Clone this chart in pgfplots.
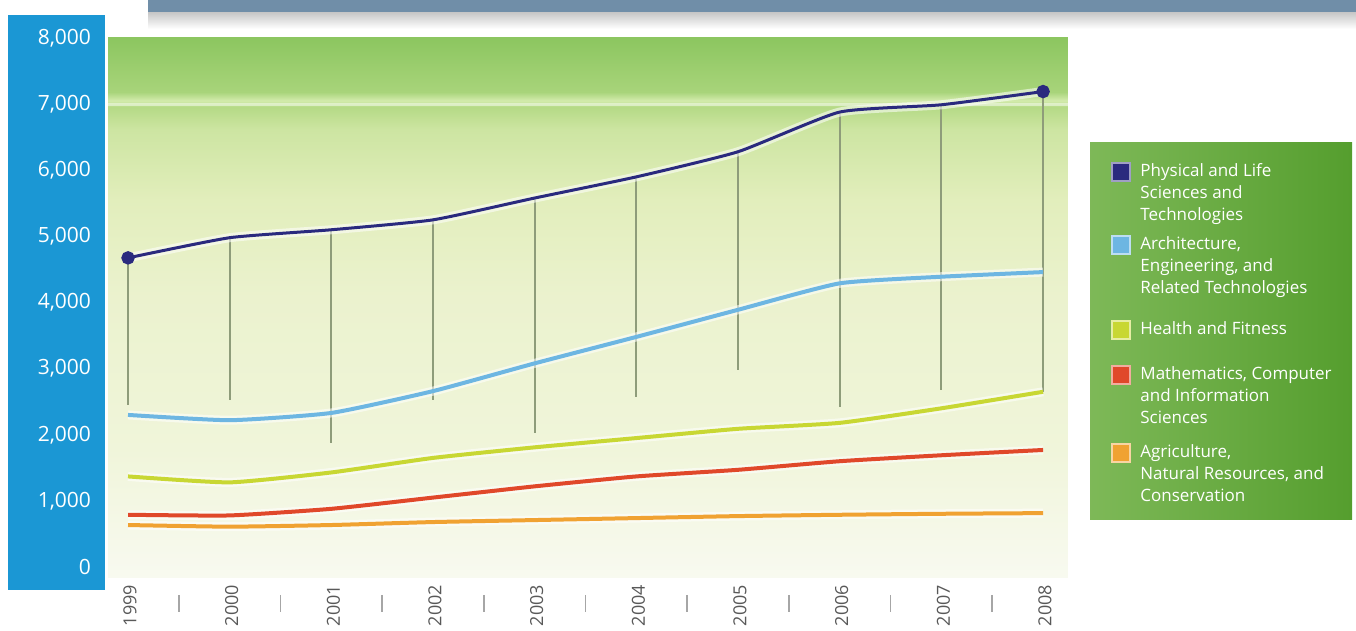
\documentclass[border=0pt]{standalone}
\usepackage{pgfplots}
\pgfplotsset{compat=1.18}
\usepackage{fontspec}
\setmainfont{Open Sans}

\definecolor{cPhys}{HTML}{2A2A7E}
\definecolor{cArch}{HTML}{6DB6E2}
\definecolor{cHealth}{HTML}{C8D733}
\definecolor{cMath}{HTML}{E0482A}
\definecolor{cAgri}{HTML}{F0A232}
\definecolor{cDrop}{HTML}{8E9C7A}
\definecolor{bandblue}{HTML}{1B97D4}
\definecolor{bannerblue}{HTML}{708EA8}
\definecolor{leggreen}{HTML}{67AC3A}
\definecolor{leggreenB}{HTML}{559E2E}

\definecolor{bg0}{HTML}{F8FAF0}
\definecolor{bg1}{HTML}{F0F5DA}
\definecolor{bg2}{HTML}{EBF2CE}
\definecolor{bg3}{HTML}{E2EEBC}
\definecolor{bg4}{HTML}{CDE5A2}
\definecolor{bg5}{HTML}{B5DA86}
\definecolor{bg6}{HTML}{D3EBAC}
\definecolor{bg7}{HTML}{A8D47A}
\definecolor{bg8}{HTML}{8CC660}
\pgfdeclareverticalshading{plotbg}{100bp}{color(0bp)=(bg0); color(25bp)=(bg0);
  color(37bp)=(bg1); color(51bp)=(bg2); color(60bp)=(bg3); color(66.5bp)=(bg4);
  color(68.6bp)=(bg5); color(69.2bp)=(bg6); color(70bp)=(bg7); color(75bp)=(bg8);
  color(100bp)=(bg8)}

\pgfplotsset{
  glow/.style={preaction={draw=white, opacity=0.55, line width=4.5pt}},
}
\tikzset{
  legsq/.style={fill=#1, draw=white!55!#1, line width=0.8pt},
  legtxt/.style={anchor=north west, inner sep=0pt, align=left, text=white,
    font=\fontsize{8.5}{11}\selectfont},
}

\begin{document}
\begin{tikzpicture}
% page = 1356 x 631 px at 0.5pt per px
\path[use as bounding box] (0,0) rectangle (678pt,315.5pt);

% banner cut off at the top
\shade[top color=gray!45, bottom color=white] (74pt,301pt) rectangle (678pt,309.5pt);
\fill[bannerblue] (74pt,309.5pt) rectangle (678pt,315.5pt);

% blue band behind the y tick labels
\fill[bandblue] (4pt,20.5pt) rectangle (52.5pt,308pt);

% legend box
\fill[left color=leggreen!85!white, right color=leggreenB] (545pt,55.5pt) rectangle (676pt,244pt);

\begin{axis}[
    at={(54pt,26.5pt)}, anchor=south west,
    scale only axis,
    width=480pt, height=270pt,
    xmin=1998.803, xmax=2008.245,
    ymin=-166, ymax=8000,
    axis line style={draw=none},
    axis background/.style={shading=plotbg},
    clip=false,
    xtick={1999,...,2008},
    ytick={0,1000,...,8000},
    major tick length=0pt,
    /pgf/number format/assume math mode=true,
    x tick label style={/pgf/number format/1000 sep={}, rotate=90, anchor=east,
        font=\fontsize{9}{10}\selectfont, text=black!65, yshift=-1pt},
    y tick label style={/pgf/number format/1000 sep={,}, anchor=east,
        font=\fontsize{10.5}{12}\selectfont, text=white, xshift=-5pt},
    unbounded coords=jump,
]
% faint light stripe at 7,000
\draw[white, opacity=0.45, line width=1.5pt] (axis cs:1998.803,7000) -- (axis cs:2008.245,7000);

% half-year separators below the axis
\pgfplotsinvokeforeach{1999.5,2000.5,2001.5,2002.5,2003.5,2004.5,2005.5,2006.5,2007.5}{
  \draw[black!35, line width=0.8pt] ([yshift=-8.5pt]axis cs:#1,-166) -- ([yshift=-17pt]axis cs:#1,-166);
}

% vertical drop lines
\addplot[cDrop, line width=1pt] coordinates {
  (1999,4675) (1999,2450) (1999,nan)
  (2000,4980) (2000,2525) (2000,nan)
  (2001,5100) (2001,1875) (2001,nan)
  (2002,5250) (2002,2525) (2002,nan)
  (2003,5580) (2003,2030) (2003,nan)
  (2004,5900) (2004,2570) (2004,nan)
  (2005,6280) (2005,2980) (2005,nan)
  (2006,6880) (2006,2420) (2006,nan)
  (2007,6990) (2007,2680) (2007,nan)
  (2008,7190) (2008,2650)
};

% Physical and Life Sciences and Technologies
\addplot[cPhys, line width=1.5pt, glow, smooth, tension=0.3, mark=*, mark size=2.6pt,
    mark indices={1,10}] coordinates {
  (1999,4675) (2000,4980) (2001,5100) (2002,5250) (2003,5580)
  (2004,5900) (2005,6280) (2006,6880) (2007,6990) (2008,7190)
};
% Architecture, Engineering, and Related Technologies
\addplot[cArch, line width=2pt, glow, smooth, tension=0.3] coordinates {
  (1999,2300) (2000,2220) (2001,2330) (2002,2660) (2003,3080)
  (2004,3480) (2005,3890) (2006,4290) (2007,4390) (2008,4460)
};
% Health and Fitness
\addplot[cHealth, line width=2pt, glow, smooth, tension=0.3] coordinates {
  (1999,1370) (2000,1280) (2001,1430) (2002,1650) (2003,1810)
  (2004,1950) (2005,2090) (2006,2180) (2007,2400) (2008,2650)
};
% Mathematics, Computer and Information Sciences
\addplot[cMath, line width=2pt, glow, smooth, tension=0.3] coordinates {
  (1999,790) (2000,780) (2001,880) (2002,1050) (2003,1220)
  (2004,1370) (2005,1470) (2006,1600) (2007,1690) (2008,1770)
};
% Agriculture, Natural Resources, and Conservation
\addplot[cAgri, line width=2pt, glow, smooth, tension=0.3] coordinates {
  (1999,635) (2000,610) (2001,635) (2002,680) (2003,710)
  (2004,740) (2005,770) (2006,790) (2007,805) (2008,815)
};
\end{axis}

% legend
\filldraw[legsq=cPhys]   (556pt,225pt)   rectangle ++(9pt,9pt);
\node[legtxt] at (570pt,234pt) {Physical and Life\\Sciences and\\Technologies};
\filldraw[legsq=cArch]   (556pt,188.5pt) rectangle ++(9pt,9pt);
\node[legtxt] at (570pt,197.5pt) {Architecture,\\Engineering, and\\Related Technologies};
\filldraw[legsq=cHealth] (556pt,146pt)   rectangle ++(9pt,9pt);
\node[legtxt] at (570pt,155pt) {Health and Fitness};
\filldraw[legsq=cMath]   (556pt,123.5pt) rectangle ++(9pt,9pt);
\node[legtxt] at (570pt,132.5pt) {Mathematics, Computer\\and Information\\Sciences};
\filldraw[legsq=cAgri]   (556pt,84.5pt)  rectangle ++(9pt,9pt);
\node[legtxt] at (570pt,93.5pt) {Agriculture,\\Natural Resources, and\\Conservation};
\end{tikzpicture}
\end{document}
